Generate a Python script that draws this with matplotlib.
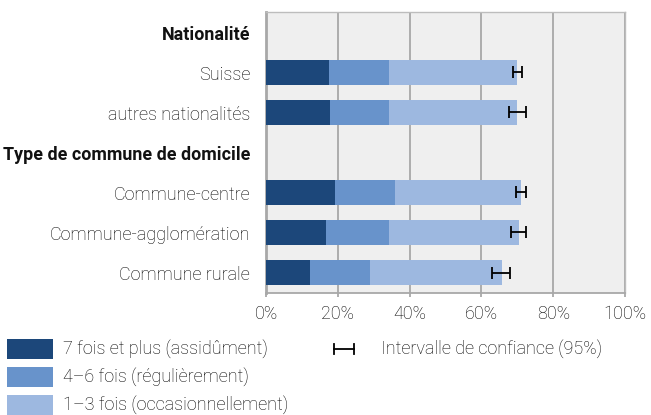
import matplotlib
matplotlib.use("Agg")
import matplotlib.pyplot as plt
from matplotlib.patches import Rectangle
from matplotlib.lines import Line2D
import numpy as np

# Data
rows = ["Nationalité", "Suisse", "autres nationalités", "Type de commune de domicile",
        "Commune-centre", "Commune-agglomération", "Commune rurale"]
is_header = [True, False, False, True, False, False, False]
assidu = [None, 17.6, 17.9, None, 19.3, 16.8, 12.3]
regulier = [None, 16.8, 16.5, None, 16.5, 17.6, 16.8]
occasion = [None, 35.6, 35.4, None, 35.1, 36.1, 36.5]
ci_low = [None, 68.8, 67.7, None, 69.6, 68.3, 62.9]
ci_high = [None, 71.3, 72.3, None, 72.3, 72.5, 67.9]
series_labels = ["7 fois et plus (assidûment)", "4–6 fois (régulièrement)", "1–3 fois (occasionnellement)"]
ci_label = "Intervalle de confiance (95%)"
xticks = [0, 20, 40, 60, 80, 100]
xticklabels = ["0%", "20%", "40%", "60%", "80%", "100%"]

colors = ["#1c477a", "#6893cb", "#9db8e0"]
FONT = "Roboto"
plt.rcParams['font.family'] = [FONT, 'DejaVu Sans']
FS = 13
TXT = "#000000"
WT = 'light'
W, H = 651, 415

fig = plt.figure(figsize=(W/100, H/100), dpi=100)
ax = fig.add_axes([266/W, 1-292.5/H, (625-266)/W, (292.5-12.5)/H])
ax.set_facecolor("#efefef")

n = len(rows)
y = np.arange(n)
for i in range(n):
    if is_header[i]:
        continue
    left = 0
    for vals, c in zip([assidu, regulier, occasion], colors):
        ax.barh(y[i], vals[i], left=left, height=0.62, color=c, zorder=3)
        left += vals[i]
    mid = (ci_low[i] + ci_high[i]) / 2
    ax.errorbar(mid, y[i], xerr=[[mid - ci_low[i]], [ci_high[i] - mid]], fmt='none',
                ecolor='black', elinewidth=1.3, capsize=4, capthick=1.3, zorder=4)

ax.set_xlim(0, 100)
ax.set_ylim(n - 0.5, -0.5)
ax.set_xticks(xticks)
ax.set_xticklabels(xticklabels, fontsize=FS, color=TXT, fontweight=WT)
ax.xaxis.grid(True, color="#a8a8a8", linewidth=1.3, zorder=1)
ax.tick_params(axis='x', length=3, color="#a8a8a8", width=1.3, pad=6)
ax.set_yticks(y)
labs = ax.set_yticklabels(rows, fontsize=FS, color=TXT)
for lab, h in zip(labs, is_header):
    if h:
        lab.set_fontweight('bold')
        lab.set_fontsize(12.9)
        lab.set_color('#111111')
    else:
        lab.set_fontweight(WT)
ax.tick_params(axis='y', length=0, pad=11.5)
for s in ['top', 'right']:
    ax.spines[s].set_color("#bdbdbd")
    ax.spines[s].set_linewidth(1.0)
ax.spines['left'].set_color("#a8a8a8")
ax.spines['left'].set_linewidth(2.0)
ax.spines['bottom'].set_color("#a8a8a8")
ax.spines['bottom'].set_linewidth(1.3)

# Legend (manual)
ys = [349, 377, 405]
for yy, c, lab in zip(ys, colors, series_labels):
    fig.patches.append(Rectangle((7/W, 1-(yy+10)/H), 46/W, 20/H, transform=fig.transFigure,
                                 facecolor=c, edgecolor='none'))
    fig.text(63/W, 1-yy/H, lab, fontsize=FS, fontweight=WT, color=TXT,
             va='center', ha='left')
yy = ys[0]
fig.lines.append(Line2D([334/W, 354/W], [1-yy/H, 1-yy/H], transform=fig.transFigure,
                        color='black', lw=1.3))
for xx in [334, 354]:
    fig.lines.append(Line2D([xx/W, xx/W], [1-(yy-5)/H, 1-(yy+5)/H], transform=fig.transFigure,
                            color='black', lw=1.3))
fig.text(381/W, 1-yy/H, ci_label, fontsize=FS, fontweight=WT, color=TXT,
         va='center', ha='left')

fig.savefig("out.png", dpi=100)
